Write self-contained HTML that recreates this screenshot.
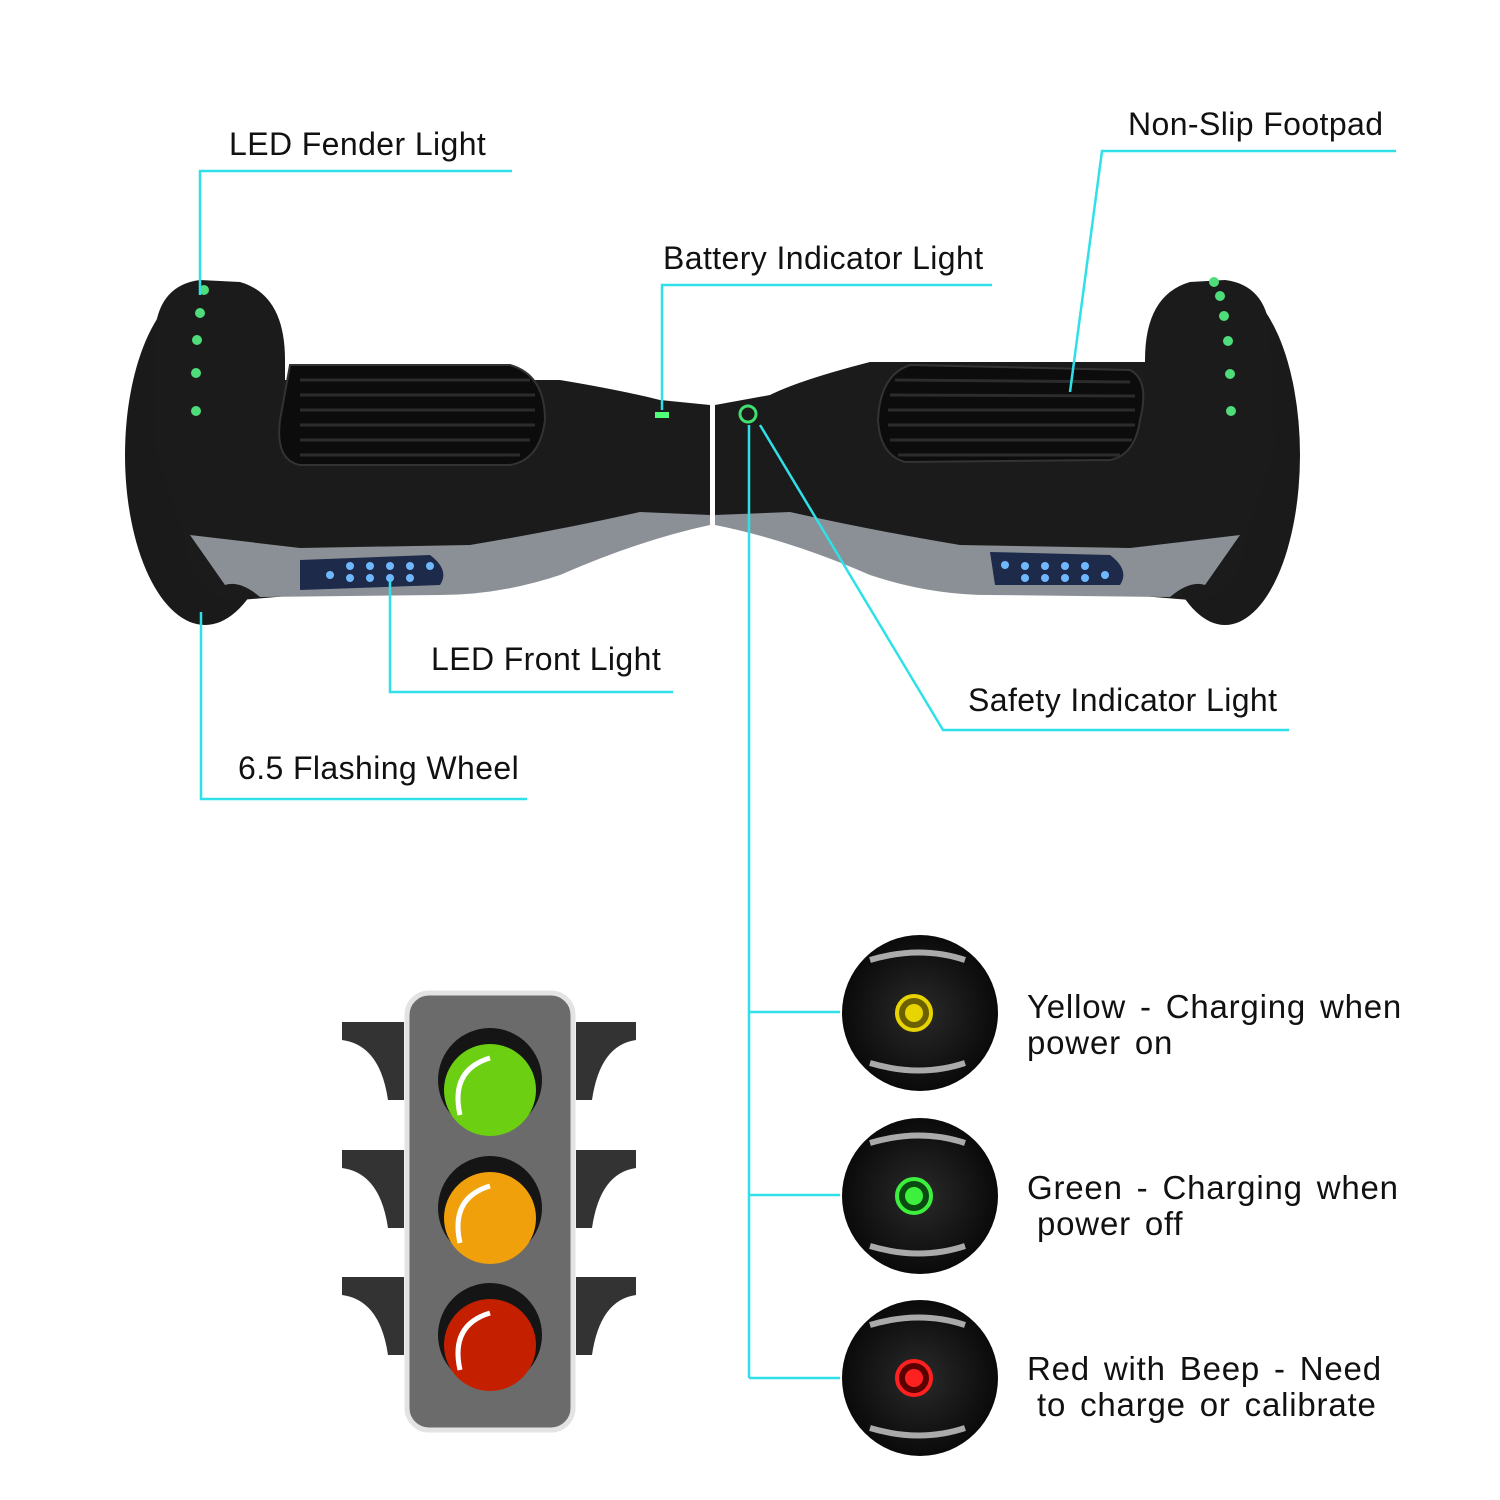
<!DOCTYPE html>
<html><head><meta charset="utf-8"><style>
html,body{margin:0;padding:0;background:#fff;}
svg{display:block}
text{font-family:"Liberation Sans",sans-serif;fill:#111;font-size:32px;letter-spacing:0.4px}
.r{font-size:33px;word-spacing:4px;letter-spacing:0.8px}
</style></head><body>
<svg width="1500" height="1500" viewBox="0 0 1500 1500" xmlns="http://www.w3.org/2000/svg">
<defs>
<radialGradient id="cg" cx="50%" cy="50%" r="50%"><stop offset="0" stop-color="#2a2a2a"/><stop offset="1" stop-color="#0a0a0a"/></radialGradient>
</defs>
<g>
<ellipse cx="205" cy="455" rx="80" ry="170" fill="#1a1a1a"/>
<path d="M155 330 Q160 285 200 280 L240 282 Q285 295 285 360 L285 380 L560 380 Q620 390 660 400 L710 405 L710 520 L640 525 Q560 560 480 590 L300 595 L240 600 Q190 600 185 540 L155 450 Z" fill="#1b1b1b"/>
<path d="M190 535 L300 548 L470 545 Q560 530 640 512 L710 515 L710 525 Q640 540 560 575 Q500 595 440 595 L260 597 Q240 580 225 585 Z" fill="#8a9096"/>
<path d="M300 560 L430 555 Q450 570 440 585 L300 590 Z" fill="#1d2a4a"/>
<g fill="#6fb8ff"><circle cx="330" cy="575" r="4"/><circle cx="350" cy="566" r="4"/><circle cx="370" cy="566" r="4"/><circle cx="390" cy="566" r="4"/><circle cx="410" cy="566" r="4"/><circle cx="430" cy="566" r="4"/><circle cx="350" cy="578" r="4"/><circle cx="370" cy="578" r="4"/><circle cx="390" cy="578" r="4"/><circle cx="410" cy="578" r="4"/></g>
<path d="M290 365 L510 365 Q545 375 545 420 Q540 460 510 465 L300 465 Q275 460 280 420 Z" fill="#0c0c0c" stroke="#333" stroke-width="2"/>
<g stroke="#2c2c2c" stroke-width="3"><line x1="300" y1="380" x2="530" y2="380"/><line x1="300" y1="395" x2="535" y2="395"/><line x1="300" y1="410" x2="535" y2="410"/><line x1="300" y1="425" x2="535" y2="425"/><line x1="300" y1="440" x2="530" y2="440"/><line x1="300" y1="455" x2="520" y2="455"/></g>
<g fill="#4fdc7a"><circle cx="204" cy="290" r="5"/><circle cx="200" cy="313" r="5"/><circle cx="197" cy="340" r="5"/><circle cx="196" cy="373" r="5"/><circle cx="196" cy="411" r="5"/></g>
</g>
<g>
<ellipse cx="1225" cy="455" rx="75" ry="170" fill="#1a1a1a"/>
<path d="M1270 330 Q1265 285 1225 280 L1190 282 Q1145 295 1145 360 L1145 362 L870 362 Q800 380 770 395 L715 405 L715 520 L790 525 Q870 560 950 590 L1130 595 L1190 600 Q1240 600 1245 540 L1275 450 Z" fill="#1b1b1b"/>
<path d="M1240 535 L1130 548 L960 545 Q870 530 790 512 L715 515 L715 525 Q790 540 870 575 Q930 595 990 595 L1170 597 Q1190 580 1205 585 Z" fill="#8a9096"/>
<path d="M990 552 L1110 555 Q1130 570 1120 585 L995 585 Z" fill="#1d2a4a"/>
<g fill="#6fb8ff"><circle cx="1005" cy="565" r="4"/><circle cx="1025" cy="566" r="4"/><circle cx="1045" cy="566" r="4"/><circle cx="1065" cy="566" r="4"/><circle cx="1085" cy="566" r="4"/><circle cx="1025" cy="578" r="4"/><circle cx="1045" cy="578" r="4"/><circle cx="1065" cy="578" r="4"/><circle cx="1085" cy="578" r="4"/><circle cx="1105" cy="575" r="4"/></g>
<path d="M910 365 L1130 370 Q1150 380 1140 420 Q1135 455 1110 460 L905 462 Q880 455 878 420 Q880 375 910 365 Z" fill="#0c0c0c" stroke="#333" stroke-width="2"/>
<g stroke="#2c2c2c" stroke-width="3"><line x1="895" y1="380" x2="1130" y2="382"/><line x1="890" y1="395" x2="1135" y2="396"/><line x1="888" y1="410" x2="1135" y2="410"/><line x1="888" y1="425" x2="1135" y2="425"/><line x1="890" y1="440" x2="1132" y2="440"/><line x1="898" y1="455" x2="1120" y2="455"/></g>
<g fill="#4fdc7a"><circle cx="1214" cy="282" r="5"/><circle cx="1220" cy="296" r="5"/><circle cx="1224" cy="316" r="5"/><circle cx="1228" cy="341" r="5"/><circle cx="1230" cy="374" r="5"/><circle cx="1231" cy="411" r="5"/></g>
</g>
<rect x="655" y="412" width="14" height="6" fill="#4fff7a"/>
<circle cx="748" cy="414" r="8" fill="none" stroke="#3fe070" stroke-width="3"/>
<g stroke="#2fe0e8" stroke-width="2.5" fill="none">
<polyline points="512,171 200,171 200,295"/>
<polyline points="992,285 662,285 662,410"/>
<polyline points="1396,151 1102,151 1070,392"/>
<polyline points="673,692 390,692 390,580"/>
<polyline points="1289,730 943,730 760,425"/>
<polyline points="527,799 201,799 201,612"/>
<line x1="749" y1="425" x2="749" y2="1378"/>
<line x1="749" y1="1012" x2="840" y2="1012"/>
<line x1="749" y1="1195" x2="840" y2="1195"/>
<line x1="749" y1="1378" x2="840" y2="1378"/>
</g>
<text x="229" y="155">LED Fender Light</text>
<text x="663" y="269">Battery Indicator Light</text>
<text x="1128" y="135">Non-Slip Footpad</text>
<text x="431" y="670">LED Front Light</text>
<text x="968" y="711">Safety Indicator Light</text>
<text x="238" y="779">6.5 Flashing Wheel</text>
<g>
<circle cx="920" cy="1013" r="78" fill="url(#cg)"/>
<path d="M870 960 Q920 945 965 960" stroke="#aaa" stroke-width="6" fill="none"/>
<path d="M870 1063 Q920 1078 965 1063" stroke="#aaa" stroke-width="6" fill="none"/>
<circle cx="914" cy="1013" r="17" fill="#6b6100" stroke="#e8d400" stroke-width="4"/><circle cx="914" cy="1013" r="9" fill="#e8d400"/>
<circle cx="920" cy="1196" r="78" fill="url(#cg)"/>
<path d="M870 1143 Q920 1128 965 1143" stroke="#aaa" stroke-width="6" fill="none"/>
<path d="M870 1246 Q920 1261 965 1246" stroke="#aaa" stroke-width="6" fill="none"/>
<circle cx="914" cy="1196" r="17" fill="#0a4a10" stroke="#3ef03e" stroke-width="4"/><circle cx="914" cy="1196" r="9" fill="#3ef03e"/>
<circle cx="920" cy="1378" r="78" fill="url(#cg)"/>
<path d="M870 1325 Q920 1310 965 1325" stroke="#aaa" stroke-width="6" fill="none"/>
<path d="M870 1428 Q920 1443 965 1428" stroke="#aaa" stroke-width="6" fill="none"/>
<circle cx="914" cy="1378" r="17" fill="#5a0000" stroke="#ff2020" stroke-width="4"/><circle cx="914" cy="1378" r="9" fill="#ff2020"/>
</g>
<text class="r" x="1027" y="1018">Yellow - Charging when</text>
<text class="r" x="1027" y="1054">power on</text>
<text class="r" x="1027" y="1199">Green - Charging when</text>
<text class="r" x="1037" y="1235">power off</text>
<text class="r" x="1027" y="1380">Red with Beep - Need</text>
<text class="r" x="1037" y="1416">to charge or calibrate</text>
<g fill="#333">
<path d="M342 1022 L404 1022 L404 1100 L388 1100 Q380 1045 342 1040 Z"/>
<path d="M342 1150 L404 1150 L404 1228 L388 1228 Q380 1173 342 1168 Z"/>
<path d="M342 1277 L404 1277 L404 1355 L388 1355 Q380 1300 342 1295 Z"/>
<path d="M636 1022 L576 1022 L576 1100 L592 1100 Q600 1045 636 1040 Z"/>
<path d="M636 1150 L576 1150 L576 1228 L592 1228 Q600 1173 636 1168 Z"/>
<path d="M636 1277 L576 1277 L576 1355 L592 1355 Q600 1300 636 1295 Z"/>
</g>
<rect x="407" y="993" width="166" height="437" rx="22" fill="#6b6b6b" stroke="#e3e3e3" stroke-width="5"/>
<circle cx="490" cy="1080" r="52" fill="#151515"/><circle cx="490" cy="1090" r="46" fill="#6ccf12"/>
<path d="M460 1115 Q450 1070 490 1058" stroke="#fff" stroke-width="5" fill="none"/>
<circle cx="490" cy="1208" r="52" fill="#151515"/><circle cx="490" cy="1218" r="46" fill="#f0a00a"/>
<path d="M460 1243 Q450 1198 490 1186" stroke="#fff" stroke-width="5" fill="none"/>
<circle cx="490" cy="1335" r="52" fill="#151515"/><circle cx="490" cy="1345" r="46" fill="#c42000"/>
<path d="M460 1370 Q450 1325 490 1313" stroke="#fff" stroke-width="5" fill="none"/>
</svg>
</body></html>
